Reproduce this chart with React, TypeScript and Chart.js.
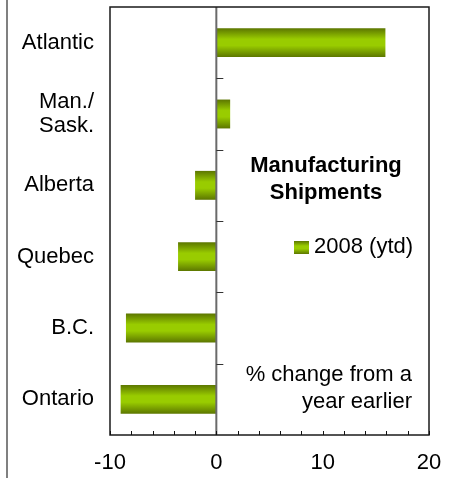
import React, { useEffect, useRef } from 'react';
import { Chart, registerables } from 'chart.js';

Chart.register(...registerables);

const categories: (string | string[])[] = ['Atlantic', ['Man./', 'Sask.'], 'Alberta', 'Quebec', 'B.C.', 'Ontario'];
const values2008 = [15.9, 1.3, -2.0, -3.6, -8.5, -9.0];
const seriesLabel = '2008 (ytd)';
const xMin = -10;
const xMax = 20;
const xStep = 10;
const xMinorStep = 2;
const titleLines = ['Manufacturing', 'Shipments'];
const noteLines = ['% change from a', 'year earlier'];

const FONT = '"Liberation Sans", Arial, Helvetica, sans-serif';
const BAR_PCT = 0.405;

function barGradient(ctx: CanvasRenderingContext2D, top: number, bottom: number) {
  const g = ctx.createLinearGradient(0, top, 0, bottom);
  g.addColorStop(0, '#5c7600');
  g.addColorStop(0.38, '#99cc00');
  g.addColorStop(0.6, '#99cc00');
  g.addColorStop(1, '#5c7600');
  return g;
}

const decor = {
  id: 'decor',
  afterDraw(chart: any) {
    const ctx: CanvasRenderingContext2D = chart.ctx;
    const { left, right, top, bottom } = chart.chartArea;
    const xs = chart.scales.x;
    const ys = chart.scales.y;
    ctx.save();

    // outer left gray rule
    ctx.strokeStyle = '#808080';
    ctx.lineWidth = 2;
    ctx.beginPath();
    ctx.moveTo(7, 0);
    ctx.lineTo(7, chart.height);
    ctx.stroke();

    // zero line
    const x0 = xs.getPixelForValue(0);
    ctx.strokeStyle = '#6a6a6a';
    ctx.lineWidth = 2;
    ctx.beginPath();
    ctx.moveTo(x0, top);
    ctx.lineTo(x0, bottom);
    ctx.stroke();

    // category boundary ticks on zero line
    ctx.strokeStyle = '#333';
    ctx.lineWidth = 1;
    for (let i = 0; i < categories.length - 1; i++) {
      const y = Math.round((ys.getPixelForValue(i) + ys.getPixelForValue(i + 1)) / 2) + 0.5;
      ctx.beginPath();
      ctx.moveTo(x0, y);
      ctx.lineTo(x0 + 7, y);
      ctx.stroke();
    }

    // frame
    ctx.strokeStyle = '#1a1a1a';
    ctx.lineWidth = 1.5;
    ctx.strokeRect(left, top, right - left, bottom - top);

    // minor ticks on x axis
    ctx.lineWidth = 1;
    ctx.strokeStyle = '#111';
    for (let v = xMin; v <= xMax; v += xMinorStep) {
      const x = Math.round(xs.getPixelForValue(v)) + 0.5;
      ctx.beginPath();
      ctx.moveTo(x, bottom);
      ctx.lineTo(x, bottom - 4);
      ctx.stroke();
    }

    // title
    ctx.fillStyle = '#000';
    ctx.font = `bold 22px ${FONT}`;
    ctx.textAlign = 'center';
    ctx.textBaseline = 'alphabetic';
    const tx = 326;
    titleLines.forEach((t, i) => ctx.fillText(t, tx, 172 + i * 27));

    // legend
    const lx = 294;
    const ly = 241;
    ctx.fillStyle = barGradient(ctx, ly, ly + 13);
    ctx.fillRect(lx, ly, 15, 13);
    ctx.fillStyle = '#000';
    ctx.font = `22px ${FONT}`;
    ctx.textAlign = 'left';
    ctx.fillText(chart.data.datasets[0].label, lx + 20, 253);

    // note
    ctx.textAlign = 'right';
    noteLines.forEach((t, i) => ctx.fillText(t, 412, 381 + i * 27));

    ctx.restore();
  },
};

export default function App() {
  const ref = useRef<HTMLCanvasElement>(null);
  useEffect(() => {
    if (!ref.current) return;
    const chart = new Chart(ref.current, {
      type: 'bar',
      data: {
        labels: categories,
        datasets: [
          {
            label: seriesLabel,
            data: values2008,
            backgroundColor: (c: any) => {
              const ys = c.chart.scales && c.chart.scales.y;
              if (!ys || !c.chart.chartArea) return '#99cc00';
              const center = ys.getPixelForValue(c.dataIndex);
              const band = (ys.bottom - ys.top) / categories.length;
              const h = band * BAR_PCT;
              return barGradient(c.chart.ctx, center - h / 2, center + h / 2);
            },
            borderWidth: 0,
            categoryPercentage: 1,
            barPercentage: BAR_PCT,
          },
        ],
      },
      options: {
        indexAxis: 'y',
        responsive: false,
        animation: false,
        layout: { padding: { left: 0, top: 7, right: 25, bottom: 0 } },
        plugins: { legend: { display: false }, tooltip: { enabled: false }, title: { display: false } },
        scales: {
          x: {
            type: 'linear',
            min: xMin,
            max: xMax,
            ticks: {
              stepSize: xStep,
              color: '#000',
              font: { family: FONT, size: 22 },
              padding: 15,
              maxRotation: 0,
            },
            grid: { display: false, drawTicks: false },
            border: { display: false },
            afterFit: (s: any) => {
              s.height = 43;
              s.paddingLeft = 0;
              s.paddingRight = 0;
            },
          },
          y: {
            type: 'category',
            ticks: {
              color: '#000',
              font: { family: FONT, size: 22, lineHeight: 1.1 },
              padding: 16,
            },
            grid: { display: false, drawTicks: false },
            border: { display: false },
            afterFit: (s: any) => {
              s.width = 110;
              s.paddingTop = 0;
              s.paddingBottom = 0;
            },
          },
        },
      },
      plugins: [decor],
    });
    return () => chart.destroy();
  }, []);
  return (
    <div style={{ position: 'fixed', left: 0, top: 0, width: 454, height: 478, background: '#fff' }}>
      <canvas ref={ref} width={454} height={478} style={{ display: 'block' }} />
    </div>
  );
}
